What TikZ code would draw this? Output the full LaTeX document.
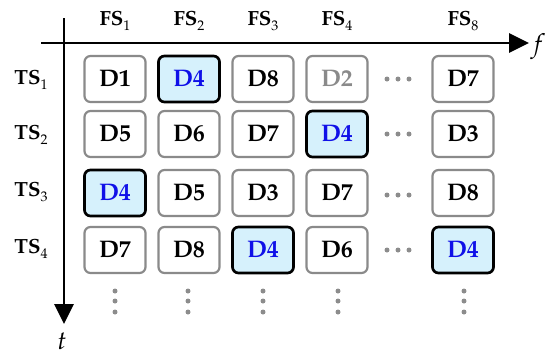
\documentclass[tikz,border=0pt]{standalone}
\usepackage[T1]{fontenc}
\usepackage{mathpazo}
\usetikzlibrary{arrows.meta}
\definecolor{boxgray}{HTML}{8A8A8A}
\definecolor{hlfill}{HTML}{D6F1FC}
\definecolor{hlblue}{HTML}{1010E8}
\definecolor{dotgray}{HTML}{8C8C8C}
\newcommand{\sbs}[1]{\raisebox{-4.5pt}{\fontsize{14}{14}\selectfont\mdseries #1}}
\tikzset{
  cell/.style={draw=boxgray, line width=2.2pt, rounded corners=6pt, minimum width=61pt, minimum height=46pt, inner sep=0pt, fill=white, font=\fontsize{24}{26}\selectfont\bfseries},
  hl/.style={cell, draw=black, line width=2.7pt, fill=hlfill, text=hlblue},
  grey/.style={cell, text=boxgray},
  lab/.style={font=\fontsize{20.5}{22}\selectfont\bfseries, inner sep=0pt},
  axis/.style={line width=2.8pt, -{Triangle[length=20pt,width=19pt]}},
  vdot/.style={circle, fill=dotgray, inner sep=0pt, minimum size=5pt}
}
\begin{document}
\begin{tikzpicture}[x=1pt,y=-1pt]
\useasboundingbox (0,0) rectangle (550,357);
% axes
\coordinate (hs) at (41,43);
\coordinate (he) at (529,43);
\coordinate (vs) at (64,18);
\coordinate (ve) at (64,324);
\draw[axis] (hs) -- (he);
\draw[axis] (vs) -- (ve);
\node[font=\fontsize{26}{28}\selectfont, inner sep=0pt] (f) at (538,47) {$f$};
\node[font=\fontsize{26}{28}\selectfont, inner sep=0pt] (t) at (62,341) {$t$};
% column headers
\node[lab] (fs1) at (115,21) {FS\sbs{1}};
\node[lab] (fs2) at (189,21) {FS\sbs{2}};
\node[lab] (fs3) at (263,21) {FS\sbs{3}};
\node[lab] (fs4) at (337,21) {FS\sbs{4}};
\node[lab] (fs8) at (463,21) {FS\sbs{8}};
% row headers
\node[lab] (ts1) at (31,80) {TS\sbs{1}};
\node[lab] (ts2) at (31,135) {TS\sbs{2}};
\node[lab] (ts3) at (31,192) {TS\sbs{3}};
\node[lab] (ts4) at (31,249) {TS\sbs{4}};
% row 1
\node[cell] (c11) at (115,79) {D1};
\node[hl]   (c12) at (189,79) {D4};
\node[cell] (c13) at (263,79) {D8};
\node[grey] (c14) at (337,79) {D2};
\node[cell] (c18) at (463,79) {D7};
% row 2
\node[cell] (c21) at (115,134) {D5};
\node[cell] (c22) at (189,134) {D6};
\node[cell] (c23) at (263,134) {D7};
\node[hl]   (c24) at (337,134) {D4};
\node[cell] (c28) at (463,134) {D3};
% row 3
\node[hl]   (c31) at (115,193) {D4};
\node[cell] (c32) at (189,193) {D5};
\node[cell] (c33) at (263,193) {D3};
\node[cell] (c34) at (337,193) {D7};
\node[cell] (c38) at (463,193) {D8};
% row 4
\node[cell] (c41) at (115,250) {D7};
\node[cell] (c42) at (189,250) {D8};
\node[hl]   (c43) at (263,250) {D4};
\node[cell] (c44) at (337,250) {D6};
\node[hl]   (c48) at (463,250) {D4};
% horizontal dots
\foreach \r/\y in {1/79,2/134,3/195,4/250}{
  \node[vdot] (h\r a) at (387,\y) {};
  \node[vdot] (h\r b) at (398,\y) {};
  \node[vdot] (h\r c) at (409,\y) {};
}
% vertical dots
\foreach \c/\x in {1/115,2/188,3/263,4/338,8/464}{
  \node[vdot] (v\c a) at (\x,291) {};
  \node[vdot] (v\c b) at (\x,301) {};
  \node[vdot] (v\c c) at (\x,312) {};
}
\end{tikzpicture}
\end{document}
